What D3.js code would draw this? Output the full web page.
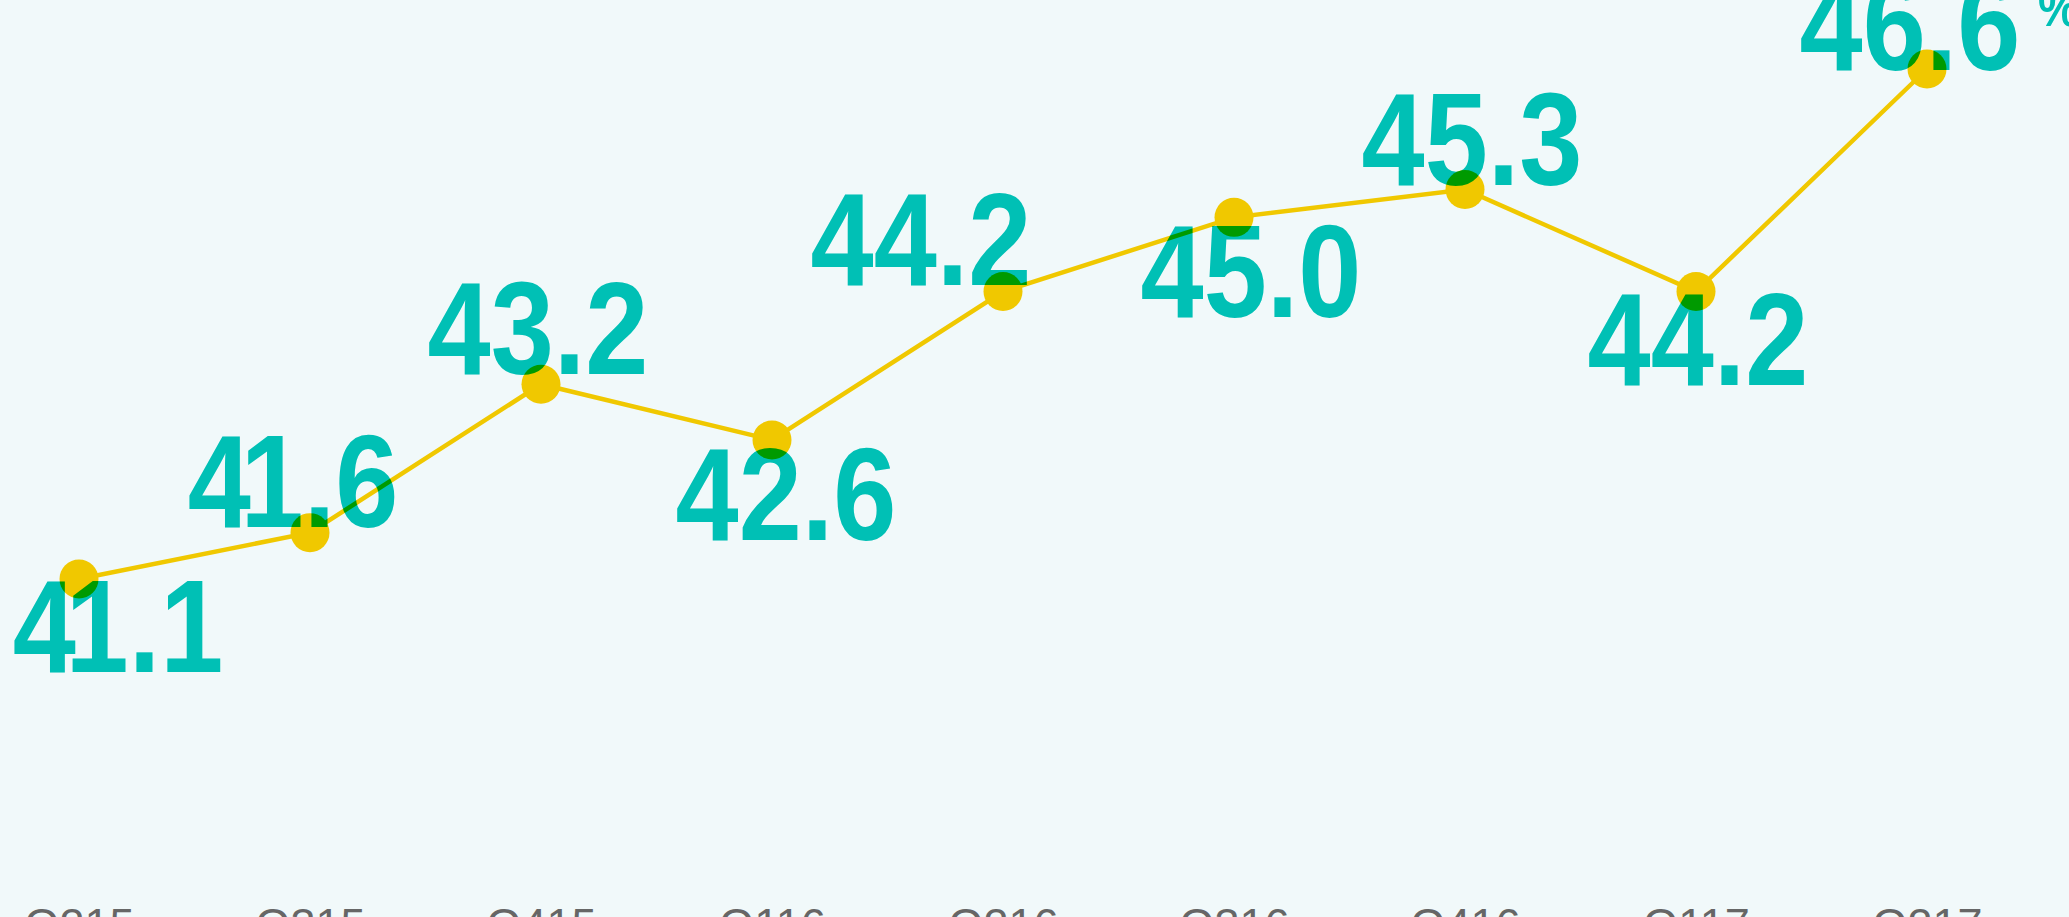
<!DOCTYPE html>
<html>
<head>
<meta charset="utf-8">
<script src="https://cdn.jsdelivr.net/npm/d3@7"></script>
<style>
  html, body { margin: 0; padding: 0; background: #f1f9fa; overflow: hidden; }
  svg { display: block; }
</style>
</head>
<body>
<script>
// ---- data ----
const quarters = ["Q215", "Q315", "Q415", "Q116", "Q216", "Q316", "Q416", "Q117", "Q217"];
const values   = [41.1, 41.6, 43.2, 42.6, 44.2, 45.0, 45.3, 44.2, 46.6];
const unitLabel = "%";

// ---- label layout (not data) ----
const labelSide = ["below", "above", "above", "below", "above", "below", "above", "below", "above"];
const labelDx   = [39, -17, -3, 14, -82, 17, 7, 2, -17];
const labelGap  = [-2, 6, 10, 5, 7, 5, 5, -2, -1];

const W = 2069, H = 917;
const svg = d3.select("body").append("svg").attr("width", W).attr("height", H);
svg.append("rect").attr("width", W).attr("height", H).attr("fill", "#f1f9fa");

const x = d3.scalePoint().domain(quarters).range([79, 1927]);
const y = d3.scaleLinear().domain(d3.extent(values)).range([579, 69]);

const data = quarters.map((q, i) => ({ q, v: values[i], i }));

// line + points
const line = d3.line().x(d => x(d.q)).y(d => y(d.v));
const marks = svg.append("g");
marks.append("path").datum(data).attr("d", line)
  .attr("fill", "none").attr("stroke", "#f0c800").attr("stroke-width", 4.5);
marks.selectAll("circle").data(data).join("circle")
  .attr("cx", d => x(d.q)).attr("cy", d => y(d.v)).attr("r", 19.5)
  .attr("fill", "#f0c800");

// value labels (condensed bold look: Liberation Sans Bold compressed horizontally)
const fs = 132, capH = 95, sx = 0.86;
const labels = svg.append("g").style("mix-blend-mode", "multiply")
  .attr("font-family", "'Liberation Sans', Arial, sans-serif").attr("font-weight", "bold")
  .attr("font-size", fs).attr("fill", "#00c5b9");

const labelPos = d => {
  const px = x(d.q) + labelDx[d.i];
  const py = labelSide[d.i] === "above"
    ? y(d.v) - labelGap[d.i]
    : y(d.v) + labelGap[d.i] + capH;
  return [px, py];
};

labels.selectAll("text.val").data(data).join("text")
  .attr("class", "val")
  .attr("text-anchor", "middle")
  .attr("transform", d => { const [px, py] = labelPos(d); return `translate(${px},${py}) scale(${sx},1)`; })
  .each(function(d) {
    const chars = d3.format(".1f")(d.v).split("");
    d3.select(this).selectAll("tspan").data(chars).join("tspan")
      .attr("dx", (c, k) => (c === "1" && k > 0 && /\d/.test(chars[k - 1]) ? -12 : 0))
      .text(c => c);
  });

// unit sign after the last label
const last = data[data.length - 1];
const [lx, ly] = labelPos(last);
labels.append("text")
  .attr("transform", `translate(${lx + 128},${ly - 44}) scale(${sx},1)`)
  .attr("font-size", 54)
  .text(unitLabel);

// x-axis labels
const axis = d3.axisBottom(x).tickSize(0).tickPadding(0);
const gx = svg.append("g").attr("transform", "translate(0,908)").call(axis);
gx.select(".domain").remove();
gx.selectAll("text")
  .attr("font-family", "'Liberation Sans', Arial, sans-serif")
  .attr("font-size", 45).attr("fill", "#666666")
  .attr("dy", "0.72em");
</script>
</body>
</html>
